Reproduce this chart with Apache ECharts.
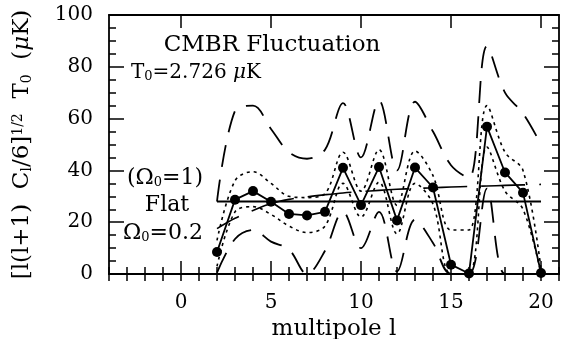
<!DOCTYPE html>
<html>
<head>
<meta charset="utf-8">
<script src="https://cdn.jsdelivr.net/npm/echarts@6/dist/echarts.min.js"></script>
<style>
  html, body { margin: 0; padding: 0; background: #fff; }
  #chart { width: 561px; height: 339px; }
</style>
</head>
<body>
<div id="chart"></div>
<script>
// multipole l of each band power
const multipoles = [2, 3, 4, 5, 6, 7, 8, 9, 10, 11, 12, 13, 14, 15, 16, 17, 18, 19, 20];
// measured amplitude (uK)
const measured = [8.5, 28.7, 32.0, 27.9, 23.2, 22.6, 24.0, 41.0, 26.6, 41.3, 20.7, 41.1, 33.4, 3.6, 0.2, 56.9, 39.2, 31.4, 0.4];
// 1 sigma envelope (dotted)
const sigma1Upper = [13, 36, 39.5, 35, 30, 29.5, 31, 47, 32, 48, 26.5, 47.5, 38, 17, 17, 65, 47, 40, 2];
const sigma1Lower = [3, 24, 26, 23, 18.5, 16, 18.5, 35, 22, 35.5, 15.5, 35, 27, 0, 0, 49, 32, 25, 0];
// 2 sigma envelope (dashed)
const sigma2Upper = [28, 63, 65, 56, 47, 44.5, 48, 66, 45, 67, 40, 66.5, 55, 42, 37, 88, 70, 62, 50];
const sigma2Lower = [0.5, 13.5, 17, 12.5, 9.5, 0, 9, 24, 10, 24, 1, 21, 12, 0, 0, 33, 0, 0, 0];
// model curves
const flatModel = [28, 28, 28, 28, 28, 28, 28, 28, 28, 28, 28, 28, 28, 28, 28, 28, 28, 28, 28];
const openModel = [17.5, 21.5, 24.5, 27.2, 28.8, 29.8, 30.6, 31.3, 31.8, 32.3, 32.7, 33.0, 33.3, 33.6, 33.8, 34.0, 34.2, 34.4, 34.6];
// axis ticks
const xMajorTicks = [0, 5, 10, 15, 20];
const xMinorTicks = [-4, -3, -2, -1, 0, 1, 2, 3, 4, 5, 6, 7, 8, 9, 10, 11, 12, 13, 14, 15, 16, 17, 18, 19, 20, 21];

const serif = "'DejaVu Serif', 'Liberation Serif', serif";
const black = '#000';

const pairs = ys => multipoles.map((l, i) => [l, ys[i]]);

const tickLine = { color: black, width: 1.5 };
const frameLine = { show: true, onZero: false, lineStyle: { color: black, width: 1.8 } };

const xAxisBase = (position, major) => ({
  type: 'value',
  position: position,
  min: -4,
  max: 21,
  axisLine: major ? frameLine : { show: false },
  axisTick: {
    show: true,
    inside: true,
    length: major ? 13 : 7,
    customValues: major ? xMajorTicks : xMinorTicks,
    lineStyle: tickLine
  },
  axisLabel: { show: false },
  splitLine: { show: false }
});

const bottomMajor = xAxisBase('bottom', true);
bottomMajor.axisLabel = {
  show: true,
  customValues: xMajorTicks,
  margin: 19,
  color: black,
  fontFamily: serif,
  fontSize: 20
};
bottomMajor.name = 'multipole l';
bottomMajor.nameLocation = 'middle';
bottomMajor.nameGap = 42;
bottomMajor.nameTextStyle = { color: black, fontFamily: serif, fontSize: 23 };

const yAxisBase = (position) => ({
  type: 'value',
  position: position,
  min: 0,
  max: 100,
  interval: 20,
  axisLine: frameLine,
  axisTick: { show: true, inside: true, length: 15, lineStyle: tickLine },
  minorTick: { show: true, splitNumber: 4, length: 7, lineStyle: tickLine },
  axisLabel: { show: false },
  splitLine: { show: false },
  minorSplitLine: { show: false }
});

const leftAxis = yAxisBase('left');
leftAxis.axisLabel = { show: true, margin: 16, color: black, fontFamily: serif, fontSize: 20 };
leftAxis.name = '[l(l+1)  C{sub|l}/6]{sup|1/2}  T{sub|0}  ({it|μ}K)';
leftAxis.nameLocation = 'middle';
leftAxis.nameRotate = 90;
leftAxis.nameGap = 75;
leftAxis.nameTextStyle = {
  color: black,
  fontFamily: serif,
  fontSize: 23,
  rich: {
    sub: { fontFamily: serif, fontSize: 14, color: black, verticalAlign: 'bottom' },
    sup: { fontFamily: serif, fontSize: 14, color: black, verticalAlign: 'top' },
    it: { fontFamily: serif, fontSize: 23, color: black, fontStyle: 'italic' }
  }
};

const curve = (name, ys, style, extra) => Object.assign({
  name: name,
  type: 'line',
  data: pairs(ys),
  xAxisIndex: 0,
  yAxisIndex: 0,
  showSymbol: false,
  symbol: 'none',
  smooth: 0.35,
  clip: true,
  lineStyle: Object.assign({ color: black }, style),
  silent: true
}, extra || {});

const textRich = {
  sub: { fontFamily: serif, fontSize: 13, fill: black, verticalAlign: 'bottom' },
  it: { fontFamily: serif, fontSize: 20, fill: black, fontStyle: 'italic' }
};

const label = (x, y, text, size, align) => ({
  type: 'text',
  x: x,
  y: y,
  silent: true,
  style: {
    text: text,
    fill: black,
    font: size + 'px ' + serif,
    align: align || 'center',
    verticalAlign: 'middle',
    rich: textRich
  }
});

const chart = echarts.init(document.getElementById('chart'), null, { renderer: 'canvas' });
chart.setOption({
  animation: false,
  backgroundColor: '#fff',
  grid: { left: 109, right: 2, top: 15, bottom: 65, containLabel: false, outerBoundsMode: 'none' },
  xAxis: [bottomMajor, xAxisBase('bottom', false), xAxisBase('top', true), xAxisBase('top', false)],
  yAxis: [leftAxis, yAxisBase('right')],
  graphic: [
    label(272, 45, 'CMBR Fluctuation', 23),
    label(131, 73, 'T{sub|0}=2.726 {it|μ}K', 20, 'left'),
    label(165, 178, '(Ω{sub|0}=1)', 22),
    label(167, 205, 'Flat', 22),
    label(163, 233, 'Ω{sub|0}=0.2', 22)
  ],
  series: [
    curve('2σ upper', sigma2Upper, { width: 1.8, type: [22, 13] }),
    curve('2σ lower', sigma2Lower, { width: 1.8, type: [22, 13] }),
    curve('1σ upper', sigma1Upper, { width: 1.6, type: [3, 4] }),
    curve('1σ lower', sigma1Lower, { width: 1.6, type: [3, 4] }),
    curve('Ω0=0.2', openModel, { width: 1.6, type: [44, 14], dashOffset: 19 }),
    curve('Flat', flatModel, { width: 2 }, { smooth: false }),
    {
      name: 'measured',
      type: 'line',
      data: pairs(measured),
      xAxisIndex: 0,
      yAxisIndex: 0,
      symbol: 'circle',
      symbolSize: 10,
      showSymbol: true,
      clip: false,
      itemStyle: { color: black },
      lineStyle: { color: black, width: 1.8 },
      silent: true
    }
  ]
});
</script>
</body>
</html>
